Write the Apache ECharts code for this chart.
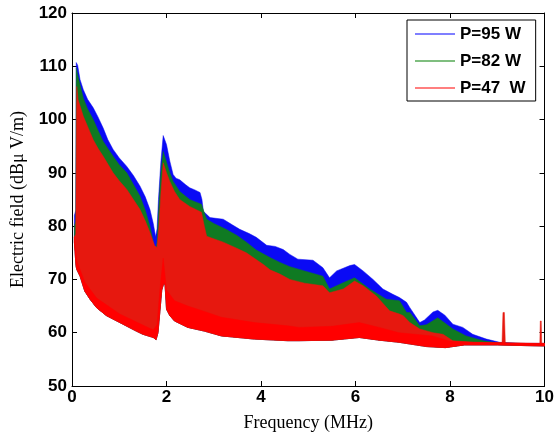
<!DOCTYPE html>
<html><head><meta charset="utf-8">
<script src="https://cdn.jsdelivr.net/npm/echarts@6/dist/echarts.min.js"></script>
<style>html,body{margin:0;padding:0;background:#fff}#c{width:557px;height:437px}</style>
</head><body><div id="c"></div>
<script>
// ---- data (frequency MHz, field dBuV/m) ----
const seriesNames = ['P=95 W', 'P=82 W', 'P=47  W'];
const seriesColors = ['#0000ff', '#007f00', '#ff0000'];
const bandFills = ['#0a0af5', '#0f7a22', '#e6180f'];
const xRange = [0, 10];
const yRange = [50, 120];

// upper envelope (harmonic peaks) of each trace
const top95 = [[0.05,82],[0.08,83],[0.09,110.7],[0.12,110.2],[0.17,107.5],[0.24,105.6],[0.33,103.8],[0.45,102.2],[0.55,100.5],[0.66,98.4],[0.76,96.2],[0.87,94.4],[1.0,92.8],[1.16,91.2],[1.3,89.5],[1.44,87.5],[1.55,85.5],[1.65,83.1],[1.72,80.5],[1.77,78],[1.8,79.5],[1.83,85],[1.88,92],[1.93,97],[2.0,95.3],[2.07,92.2],[2.14,89.7],[2.2,89],[2.28,88.7],[2.4,87.8],[2.49,87.2],[2.6,86.8],[2.71,86.3],[2.75,85],[2.78,82.8],[2.92,81.6],[3.2,81.3],[3.4,80.2],[3.55,79.4],[3.75,78.6],[3.9,77.9],[4.12,76.4],[4.3,76.2],[4.47,75.6],[4.61,74.7],[4.78,73.8],[5.1,73.6],[5.31,72.2],[5.45,70.3],[5.6,71.6],[5.88,72.6],[5.98,72.8],[6.16,71.6],[6.37,70],[6.58,68.2],[6.79,67.2],[6.93,66.6],[7.08,65.7],[7.15,64.7],[7.36,61.9],[7.46,62.4],[7.64,63.9],[7.74,64.2],[7.89,63.3],[8.06,61.6],[8.27,61],[8.48,59.7],[8.77,58.8],[9.05,58.2],[9.5,58],[10,58]];
const top82 = [[0.05,80],[0.08,81],[0.09,109.7],[0.13,108],[0.24,104],[0.33,102],[0.45,100],[0.55,98],[0.66,95.9],[0.87,93.1],[1.0,91.5],[1.16,90],[1.3,87.8],[1.44,85.6],[1.55,83],[1.65,80],[1.72,77],[1.76,75.1],[1.8,77],[1.84,84],[1.88,90],[1.93,94],[2.0,92],[2.07,90],[2.14,88.4],[2.28,86.5],[2.49,85],[2.6,84.6],[2.74,84.1],[2.8,82.5],[2.85,81.3],[3.0,80.5],[3.26,79.4],[3.5,78.2],[3.69,77],[3.9,75.5],[4.19,74.1],[4.4,73.2],[4.61,72.4],[4.92,71.6],[5.31,70.6],[5.45,68.2],[5.74,69.4],[5.98,70.3],[6.3,68.2],[6.65,66.3],[6.93,66],[7.08,63.8],[7.15,63.8],[7.36,61.3],[7.5,61.5],[7.74,62.8],[8.06,60.7],[8.34,59.4],[8.7,58.5],[9.0,58.1],[10,57.9]];
const top47 = [[0.05,78],[0.08,78.5],[0.1,106.2],[0.13,103.7],[0.24,100.6],[0.35,98.3],[0.45,96.2],[0.55,94.6],[0.66,93.1],[0.87,90],[1.0,88.5],[1.16,86.9],[1.3,85],[1.44,83.1],[1.55,81],[1.65,78.8],[1.75,76.3],[1.8,76],[1.84,80],[1.88,86],[1.93,91.9],[2.0,90],[2.07,88.4],[2.17,86.5],[2.28,85],[2.49,83.7],[2.74,82.6],[2.8,80],[2.85,78.1],[3.2,77],[3.45,76],[3.69,75],[4.05,72.8],[4.19,71.8],[4.4,71.0],[4.61,70],[4.92,69.3],[5.31,68.8],[5.45,67.5],[5.74,68.2],[5.98,69.7],[6.16,68.8],[6.44,66.9],[6.72,64.1],[6.93,63.5],[7.01,63.2],[7.15,61.9],[7.36,60.7],[7.64,60],[7.85,59.7],[8.06,58.5],[8.5,58.2],[9.1,58.1],[9.12,63.8],[9.15,63.8],[9.17,58],[9.9,57.9],[9.91,62.2],[9.93,62.2],[9.94,58],[10,58]];
// lower envelope (noise floor between harmonics)
const floorLevel = [[0.05,77],[0.085,72.5],[0.1,71.9],[0.17,70.6],[0.27,67.8],[0.38,66.3],[0.52,64.7],[0.73,63.2],[1.01,61.9],[1.36,60.3],[1.5,59.7],[1.72,59.1],[1.78,58.7],[1.82,60],[1.86,64],[1.9,68],[1.95,69.5],[1.97,68.8],[2.0,64.4],[2.07,63.2],[2.17,62.2],[2.45,61],[2.8,60.3],[3.16,59.4],[3.86,58.8],[4.56,58.5],[4.81,58.5],[5.5,58.6],[6.08,59.1],[6.5,58.6],[6.92,58.2],[7.5,57.4],[7.9,57.2],[8.3,57.7],[9.0,57.7],[10,57.5]];
// top of the dense, solid-red noise band of the P=47 W trace
const denseTop47 = [[0.05,78],[0.1,73.5],[0.27,69.5],[0.52,66.5],[1.01,63.5],[1.72,60.5],[1.8,61.5],[1.86,68],[1.93,74],[2.0,68],[2.17,66],[2.45,65],[2.8,64],[3.16,62.9],[3.86,61.9],[4.56,61.3],[4.81,61],[5.5,61.2],[6.08,61.9],[6.5,61],[6.92,60],[7.62,59.4],[8.0,58.4],[8.5,58.2],[10,58]];
const tops = [top95, top82, top47];

function bandRenderer(top, floor, fill) {
  return function (params, api) {
    if (params.dataIndex !== 0) return null;
    const pts = top.map(p => api.coord(p)).concat(floor.slice().reverse().map(p => api.coord(p)));
    return { type: 'polygon', shape: { points: pts }, style: { fill: fill, stroke: fill, lineWidth: 0.5 } };
  };
}

const chart = echarts.init(document.getElementById('c'), null, { renderer: 'canvas' });
const tickFont = { color: '#000', fontFamily: 'Liberation Sans, Arial', fontWeight: 'bold', fontSize: 17 };
const axisCommon = {
  axisLine: { show: true, onZero: false, lineStyle: { color: '#000', width: 1 } },
  axisTick: { show: true, inside: true, length: 5, lineStyle: { color: '#000' } },
  splitLine: { show: false }
};
const series = seriesNames.map((n, i) => ({
  name: n, type: 'custom', xAxisIndex: 0, yAxisIndex: 0,
  itemStyle: { color: seriesColors[i] },
  clip: true, z: 2 + i,
  renderItem: bandRenderer(tops[i], floorLevel, bandFills[i]),
  encode: { x: 0, y: 1 },
  data: [tops[i][0]]
}));
series.push({
  name: 'dense47', type: 'custom', xAxisIndex: 0, yAxisIndex: 0,
  itemStyle: { color: '#ff0000' }, clip: true, z: 6,
  renderItem: bandRenderer(denseTop47, floorLevel, '#ff0000'),
  encode: { x: 0, y: 1 },
  data: [denseTop47[0]]
});
chart.setOption({
  animation: false,
  backgroundColor: '#fff',
  grid: { left: 72, right: 11, top: 13, bottom: 50, containLabel: false },
  legend: {
    orient: 'vertical', left: 407, top: 20,
    data: seriesNames.map((n, i) => ({ name: n, icon: 'rect', itemStyle: { color: seriesColors[i] } })),
    itemWidth: 40, itemHeight: 1.2, itemGap: 7,
    padding: [4, 10, 3, 8],
    backgroundColor: '#fff', borderColor: '#000', borderWidth: 1, borderRadius: 0,
    textStyle: { color: '#000', fontFamily: 'Liberation Sans, Arial', fontWeight: 'bold', fontSize: 17, lineHeight: 20, height: 20 }
  },
  xAxis: [
    Object.assign({ type: 'value', min: xRange[0], max: xRange[1], interval: 2, position: 'bottom',
      name: 'Frequency (MHz)', nameLocation: 'middle', nameGap: 28,
      nameTextStyle: { color: '#000', fontFamily: 'Liberation Serif, Times New Roman', fontSize: 18 },
      axisLabel: Object.assign({ margin: 3 }, tickFont) }, axisCommon),
    Object.assign({ type: 'value', min: xRange[0], max: xRange[1], interval: 2, position: 'top', axisLabel: { show: false } }, axisCommon)
  ],
  yAxis: [
    Object.assign({ type: 'value', min: yRange[0], max: yRange[1], interval: 10, position: 'left',
      name: 'Electric field (dBμ V/m)', nameLocation: 'middle', nameGap: 43,
      nameTextStyle: { color: '#000', fontFamily: 'Liberation Serif, Times New Roman', fontSize: 18 },
      axisLabel: Object.assign({ margin: 5 }, tickFont) }, axisCommon),
    Object.assign({ type: 'value', min: yRange[0], max: yRange[1], interval: 10, position: 'right', axisLabel: { show: false } }, axisCommon)
  ],
  series: series
});
</script></body></html>
